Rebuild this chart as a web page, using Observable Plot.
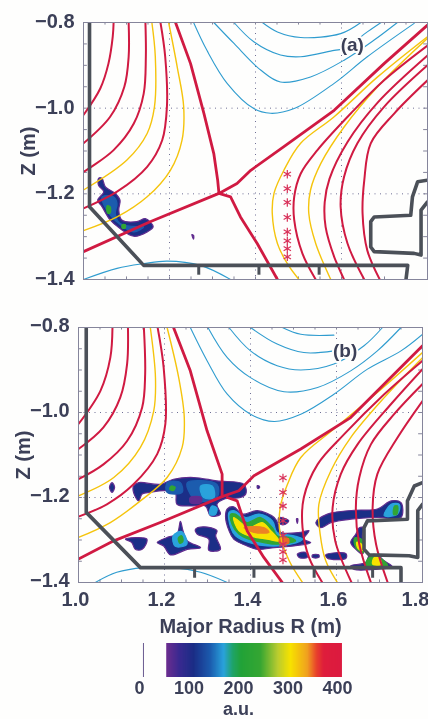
<!DOCTYPE html>
<html><head><meta charset="utf-8">
<script src="https://cdn.jsdelivr.net/npm/d3@7"></script>
<script src="https://cdn.jsdelivr.net/npm/@observablehq/plot@0.6"></script>
<style>
html,body{margin:0;padding:0;background:#fefefd;overflow:hidden}
svg{display:block;filter:blur(0.35px)}
</style></head><body>
<div id="chart"></div>
<script>
// axis values
const rTicks=[1.0,1.2,1.4,1.6], rLast=[1.8], zTicks=[-1.4,-1.2,-1.0,-0.8];
const rGrid=[1.2,1.4,1.6], zGrid=[-1.0,-1.2];
const rMinor=[1.05,1.1,1.15,1.2,1.25,1.3,1.35,1.4,1.45,1.5,1.55,1.6,1.65,1.7,1.75];
const zMinor=[-0.85,-0.9,-0.95,-1.0,-1.05,-1.1,-1.15,-1.2,-1.25,-1.3,-1.35];
const starZ=[-1.154,-1.188,-1.22,-1.255,-1.289,-1.31,-1.328,-1.347];
// colour bar
const barTicks=[0,100,200,300,400];
const levels=[55,80,109,143,170,188,205,244,279,305,339,358,372,410];
const levelColors=["#6b2d8f","#3a2a90","#1b2d86","#1c5cae","#2aa3dc","#1fa36a","#22a238","#35a633","#b8cc30","#f7e200","#f0a020","#e8402c","#de1e3c","#dc1a40"];
const barValues=d3.range(55,406,2);

// panel (a) contours: [R, Z]
const aRed=[
[[1.07,-.8],[1.068,-.833],[1.058,-.896],[1.039,-.954],[1,-1.016]],
[[1.105,-.8],[1.105,-.88],[1.095,-.95],[1.062,-1.02],[1,-1.082]],
[[1.144,-.8],[1.145,-.88],[1.14,-.966],[1.117,-1.036],[1.07,-1.098],[1,-1.149]],
[[1.179,-.8],[1.19,-.88],[1.194,-.997],[1.183,-1.075],[1.148,-1.137],[1.078,-1.195],[1,-1.234]],
[[1.8,-.854],[1.699,-.935],[1.622,-1.012],[1.544,-1.098],[1.505,-1.153],[1.49,-1.207],[1.49,-1.261],[1.509,-1.339],[1.54,-1.4]],
[[1.8,-.877],[1.684,-.987],[1.614,-1.079],[1.572,-1.165],[1.561,-1.219],[1.563,-1.277],[1.583,-1.347],[1.606,-1.4]],
[[1.8,-.9],[1.699,-.997],[1.637,-1.082],[1.606,-1.16],[1.598,-1.23],[1.614,-1.316],[1.653,-1.4]],
[[1.8,-.935],[1.723,-1.012],[1.668,-1.082],[1.653,-1.168],[1.649,-1.246],[1.66,-1.332],[1.689,-1.4]]];
const aYellow=[
[[1.159,-.8],[1.167,-.88],[1.165,-.997],[1.148,-1.059],[1.101,-1.121],[1,-1.191]],
[[1.198,-.8],[1.218,-.904],[1.233,-.997],[1.229,-1.075],[1.202,-1.145],[1.148,-1.207],[1.078,-1.254],[1,-1.286]],
[[1.8,-.833],[1.684,-.927],[1.583,-1.02],[1.505,-1.082],[1.466,-1.145],[1.443,-1.199],[1.439,-1.246],[1.451,-1.316],[1.474,-1.363],[1.501,-1.4]],
[[1.8,-.837],[1.684,-.95],[1.606,-1.044],[1.552,-1.129],[1.528,-1.191],[1.524,-1.246],[1.54,-1.316],[1.575,-1.4]]];
const aBlue=[
[[1,-1.4],[1.078,-1.374],[1.14,-1.363],[1.194,-1.357],[1.272,-1.367],[1.342,-1.4]],
[[1.256,-.8],[1.287,-.865],[1.334,-.942],[1.396,-1.001],[1.435,-1.012],[1.49,-1.001],[1.583,-.942],[1.66,-.88],[1.769,-.802]],
[[1.303,-.8],[1.35,-.849],[1.412,-.911],[1.458,-.939],[1.528,-.927],[1.606,-.888],[1.676,-.841],[1.73,-.8]],
[[1.35,-.8],[1.396,-.845],[1.458,-.876],[1.505,-.88],[1.583,-.865],[1.606,-.861],[1.66,-.822],[1.692,-.8]],
[[1.416,-.8],[1.451,-.822],[1.505,-.835],[1.598,-.826],[1.645,-.8]]];
const aSep=[
[[1.214,-.8],[1.249,-.896],[1.28,-1.012],[1.303,-1.106],[1.312,-1.168],[1.315,-1.199]],
[[1.315,-1.199],[1.357,-1.176],[1.389,-1.145],[1.466,-1.09],[1.583,-1.005],[1.699,-.896],[1.8,-.806]],
[[1.315,-1.199],[1.155,-1.265],[1,-1.335]],
[[1.315,-1.199],[1.342,-1.207],[1.365,-1.254],[1.404,-1.316],[1.451,-1.4]]];
const aWall=[
[[1.014,-.8],[1.014,-1.23],[1.14,-1.367],[1.754,-1.367],[1.75,-1.4]],
[[1.8,-1.168],[1.777,-1.172],[1.765,-1.207],[1.761,-1.25],[1.676,-1.254],[1.668,-1.265],[1.668,-1.324],[1.676,-1.335],[1.769,-1.339],[1.785,-1.343],[1.785,-1.238],[1.8,-1.219]]];
const aFeet=[1.268,1.408,1.548];
const aBlobs=[
{v:110,pts:[[1.035,-1.164],[1.043,-1.164],[1.051,-1.184],[1.074,-1.199],[1.085,-1.215],[1.082,-1.238],[1.089,-1.261],[1.124,-1.265],[1.144,-1.258],[1.162,-1.277],[1.148,-1.289],[1.117,-1.299],[1.085,-1.281],[1.062,-1.261],[1.043,-1.23],[1.033,-1.215],[1.047,-1.195],[1.035,-1.18]]},
{v:143,pts:[[1.043,-1.207],[1.07,-1.207],[1.078,-1.223],[1.074,-1.246],[1.085,-1.269],[1.132,-1.277],[1.14,-1.277],[1.117,-1.289],[1.082,-1.269],[1.054,-1.238]]},
{v:235,pts:[[1.055,-1.228],[1.062,-1.23],[1.062,-1.245],[1.056,-1.245]]},
{v:235,pts:[[1.09,-1.272],[1.097,-1.272],[1.097,-1.28],[1.09,-1.28]]},
{v:60,pts:[[1.252,-1.295],[1.256,-1.297],[1.256,-1.306]]}];

// panel (b) contours: [R, Z]
const bRed=[
[[1.079,-.8],[1.074,-.871],[1.051,-.949],[1,-1.027]],
[[1.115,-.8],[1.113,-.886],[1.097,-.965],[1.058,-1.035],[1,-1.086]],
[[1.152,-.8],[1.155,-.91],[1.148,-.988],[1.113,-1.067],[1.058,-1.122],[1,-1.157]],
[[1.184,-.8],[1.198,-.894],[1.202,-1.027],[1.183,-1.098],[1.128,-1.169],[1.066,-1.216],[1,-1.245]],
[[1.8,-.878],[1.711,-.957],[1.618,-1.051],[1.556,-1.122],[1.524,-1.2],[1.521,-1.271],[1.536,-1.341],[1.567,-1.4]],
[[1.8,-.898],[1.727,-.98],[1.649,-1.075],[1.61,-1.145],[1.591,-1.224],[1.597,-1.302],[1.635,-1.4]],
[[1.8,-.933],[1.734,-1.004],[1.68,-1.075],[1.653,-1.153],[1.645,-1.224],[1.653,-1.31],[1.68,-1.4]],
[[1.8,-.973],[1.742,-1.059],[1.695,-1.145],[1.684,-1.224],[1.692,-1.31],[1.719,-1.4]]];
const bYellow=[
[[1.167,-.8],[1.179,-.918],[1.175,-.996],[1.144,-1.082],[1.082,-1.153],[1,-1.196]],
[[1.206,-.8],[1.233,-.918],[1.246,-1.012],[1.241,-1.082],[1.206,-1.153],[1.144,-1.208],[1.074,-1.259],[1,-1.294]],
[[1.8,-.859],[1.695,-.953],[1.594,-1.039],[1.517,-1.106],[1.486,-1.169],[1.469,-1.224],[1.469,-1.286],[1.49,-1.349],[1.521,-1.4]],
[[1.8,-.871],[1.711,-.965],[1.633,-1.059],[1.587,-1.137],[1.559,-1.216],[1.562,-1.286],[1.575,-1.349],[1.602,-1.4]]];
const bBlue=[
[[1.039,-1.4],[1.089,-1.376],[1.152,-1.365],[1.221,-1.365],[1.284,-1.376],[1.346,-1.4]],
[[1.26,-.8],[1.299,-.878],[1.346,-.957],[1.4,-1.004],[1.455,-1.021],[1.517,-1.004],[1.594,-.957],[1.672,-.898],[1.75,-.855],[1.8,-.816]],
[[1.301,-.8],[1.346,-.871],[1.4,-.918],[1.478,-.951],[1.556,-.941],[1.633,-.902],[1.695,-.855],[1.75,-.8]],
[[1.35,-.8],[1.4,-.855],[1.462,-.89],[1.517,-.9],[1.594,-.886],[1.664,-.843],[1.707,-.8]],
[[1.4,-.8],[1.462,-.839],[1.524,-.859],[1.594,-.855]],
[[1.474,-.8],[1.517,-.816],[1.594,-.818]]];
const bSep=[
[[1.221,-.8],[1.26,-.902],[1.299,-1.043],[1.334,-1.145],[1.334,-1.198]],
[[1.334,-1.198],[1.373,-1.184],[1.408,-1.149],[1.517,-1.086],[1.633,-1.012],[1.8,-.843]],
[[1.334,-1.198],[1.19,-1.259],[1.082,-1.302],[1,-1.345]],
[[1.346,-1.2],[1.369,-1.208],[1.392,-1.278],[1.431,-1.341],[1.474,-1.4]]];
const bWall=[
[[1.018,-.8],[1.018,-1.235],[1.144,-1.365],[1.75,-1.365],[1.75,-1.4]],
[[1.8,-1.165],[1.781,-1.173],[1.765,-1.208],[1.765,-1.251],[1.672,-1.255],[1.664,-1.271],[1.664,-1.322],[1.676,-1.335],[1.769,-1.337],[1.789,-1.341],[1.789,-1.231],[1.8,-1.216]]];
const bFeet=[1.27,1.408,1.548,1.684];
const bBlobs=[
{v:110,pts:[[1.078,-1.165],[1.084,-1.176],[1.078,-1.188],[1.072,-1.176]]},
{v:110,pts:[[1.128,-1.173],[1.14,-1.165],[1.19,-1.169],[1.221,-1.157],[1.268,-1.153],[1.322,-1.161],[1.385,-1.169],[1.389,-1.192],[1.377,-1.2],[1.338,-1.204],[1.322,-1.216],[1.33,-1.239],[1.307,-1.243],[1.295,-1.22],[1.26,-1.22],[1.229,-1.216],[1.225,-1.188],[1.198,-1.184],[1.167,-1.188],[1.148,-1.192],[1.14,-1.208],[1.128,-1.188]]},
{v:143,pts:[[1.253,-1.165],[1.322,-1.169],[1.322,-1.2],[1.276,-1.208],[1.26,-1.192]]},
{v:143,pts:[[1.206,-1.165],[1.237,-1.165],[1.241,-1.188],[1.206,-1.188]]},
{v:170,pts:[[1.284,-1.173],[1.311,-1.173],[1.315,-1.2],[1.291,-1.2]]},
{v:235,pts:[[1.216,-1.173],[1.225,-1.176],[1.22,-1.184],[1.212,-1.18]]},
{v:60,pts:[[1.26,-1.2],[1.285,-1.2],[1.285,-1.212],[1.26,-1.212]]},
{v:170,pts:[[1.31,-1.22],[1.322,-1.225],[1.318,-1.24],[1.305,-1.24]]},
{v:110,pts:[[1.346,-1.227],[1.361,-1.222],[1.381,-1.239],[1.416,-1.231],[1.455,-1.247],[1.466,-1.267],[1.47,-1.282],[1.517,-1.282],[1.536,-1.278],[1.524,-1.298],[1.54,-1.306],[1.501,-1.314],[1.455,-1.318],[1.416,-1.322],[1.392,-1.314],[1.361,-1.298],[1.35,-1.278],[1.342,-1.247]]},
{v:170,pts:[[1.35,-1.235],[1.361,-1.231],[1.389,-1.247],[1.42,-1.239],[1.451,-1.255],[1.462,-1.282],[1.501,-1.29],[1.521,-1.298],[1.493,-1.31],[1.439,-1.314],[1.396,-1.306],[1.365,-1.29],[1.354,-1.271]]},
{v:235,pts:[[1.354,-1.239],[1.365,-1.239],[1.392,-1.259],[1.423,-1.247],[1.451,-1.271],[1.462,-1.29],[1.493,-1.294],[1.505,-1.302],[1.462,-1.31],[1.431,-1.306],[1.396,-1.298],[1.373,-1.286],[1.357,-1.263]]},
{v:305,pts:[[1.361,-1.247],[1.396,-1.271],[1.427,-1.259],[1.447,-1.278],[1.466,-1.302],[1.439,-1.298],[1.396,-1.29],[1.373,-1.278]]},
{v:345,pts:[[1.385,-1.271],[1.431,-1.271],[1.443,-1.282],[1.408,-1.282]]},
{v:350,pts:[[1.468,-1.297],[1.488,-1.297],[1.488,-1.308],[1.468,-1.308]]},
{v:110,pts:[[1.109,-1.298],[1.159,-1.298],[1.148,-1.322],[1.132,-1.322],[1.124,-1.306]]},
{v:110,pts:[[1.183,-1.306],[1.206,-1.294],[1.229,-1.286],[1.237,-1.256],[1.243,-1.278],[1.253,-1.302],[1.284,-1.318],[1.253,-1.322],[1.214,-1.335],[1.198,-1.314]]},
{v:170,pts:[[1.22,-1.29],[1.24,-1.28],[1.252,-1.31],[1.225,-1.315]]},
{v:235,pts:[[1.232,-1.295],[1.24,-1.29],[1.243,-1.303],[1.236,-1.308]]},
{v:110,pts:[[1.272,-1.275],[1.291,-1.269],[1.322,-1.278],[1.319,-1.29],[1.33,-1.322],[1.303,-1.324],[1.303,-1.298],[1.276,-1.286]]},
{v:110,pts:[[1.509,-1.333],[1.528,-1.329],[1.532,-1.341],[1.513,-1.341]]},
{v:110,pts:[[1.544,-1.335],[1.559,-1.335],[1.559,-1.341],[1.544,-1.341]]},
{v:110,pts:[[1.575,-1.335],[1.622,-1.332],[1.622,-1.343],[1.579,-1.343]]},
{v:110,pts:[[1.552,-1.259],[1.579,-1.239],[1.641,-1.23],[1.695,-1.227],[1.727,-1.208],[1.75,-1.212],[1.75,-1.247],[1.695,-1.247],[1.633,-1.251],[1.587,-1.259],[1.563,-1.271]]},
{v:170,pts:[[1.727,-1.216],[1.746,-1.216],[1.742,-1.239],[1.711,-1.243]]},
{v:235,pts:[[1.735,-1.22],[1.742,-1.22],[1.74,-1.24],[1.733,-1.24]]},
{v:110,pts:[[1.653,-1.271],[1.664,-1.271],[1.66,-1.29],[1.664,-1.322],[1.66,-1.333],[1.645,-1.322],[1.633,-1.306],[1.645,-1.286]]},
{v:235,pts:[[1.642,-1.295],[1.66,-1.3],[1.662,-1.33],[1.645,-1.318]]},
{v:305,pts:[[1.647,-1.305],[1.66,-1.312],[1.66,-1.325],[1.65,-1.32]]},
{v:110,pts:[[1.633,-1.361],[1.668,-1.353],[1.676,-1.337],[1.695,-1.335],[1.711,-1.349],[1.73,-1.363],[1.688,-1.369],[1.641,-1.369]]},
{v:235,pts:[[1.668,-1.361],[1.676,-1.341],[1.695,-1.339],[1.719,-1.361]]},
{v:305,pts:[[1.684,-1.357],[1.688,-1.341],[1.699,-1.341],[1.703,-1.358]]},
{v:110,pts:[[1.466,-1.247],[1.489,-1.255],[1.478,-1.264],[1.466,-1.26]]},
{v:60,pts:[[1.507,-1.25],[1.51,-1.25],[1.509,-1.261]]},
{v:110,pts:[[1.416,-1.172],[1.421,-1.174],[1.42,-1.178],[1.416,-1.178]]}];

const ink="#3c4058", frameC="#85859b", gridC="#6f6f95";
const colorOpts={type:"linear",domain:levels,range:levelColors,interpolate:"rgb"};
const flat=(cs)=>cs.flatMap((c,i)=>c.map(p=>({R:p[0],Z:p[1],id:i})));
const flatBlobs=(bs)=>bs.flatMap((b,i)=>b.pts.map(p=>({R:p[0],Z:p[1],v:b.v,s:b.v<=110?60:b.v,id:i})));

function panel({red,yellow,blue,sep,wall,feet,blobs,starR,tag,tagR,tagZ,mL,mR,mT,mB,h,dyT,zOffset,xAxis}){
  const marks=[
    Plot.ruleX(rGrid,{x:d=>d,stroke:gridC,strokeWidth:1,strokeDasharray:"1,4.5"}),
    Plot.ruleY(zGrid,{y:d=>d,stroke:gridC,strokeWidth:1,strokeDasharray:"1,4.5"}),
    Plot.ruleY(zMinor,{y:d=>d,x1:1,x2:1.009,stroke:frameC}),
    Plot.ruleY(zMinor,{y:d=>d,x1:1.791,x2:1.8,stroke:frameC}),
    Plot.ruleX(rMinor,{x:d=>d,y1:-1.4,y2:-1.394,stroke:frameC}),
    Plot.ruleX(rMinor,{x:d=>d,y1:-.806,y2:-.8,stroke:frameC}),
    Plot.line(flatBlobs(blobs),{x:"R",y:"Z",z:"id",fill:"v",stroke:"s",strokeWidth:1.2,curve:"catmull-rom-closed",clip:true}),
    Plot.line(flat(blue),{x:"R",y:"Z",z:"id",stroke:"#2f9ccf",strokeWidth:1.1,curve:"catmull-rom",clip:true}),
    Plot.line(flat(yellow),{x:"R",y:"Z",z:"id",stroke:"#f5c40c",strokeWidth:1.4,curve:"catmull-rom",clip:true}),
    Plot.line(flat(red),{x:"R",y:"Z",z:"id",stroke:"#d01a42",strokeWidth:2,curve:"catmull-rom",clip:true}),
    Plot.line(flat(sep),{x:"R",y:"Z",z:"id",stroke:"#d01a42",strokeWidth:2.8,clip:true}),
    Plot.line(flat(wall),{x:"R",y:"Z",z:"id",stroke:"#4b5058",strokeWidth:3.6,strokeLinejoin:"round",clip:true}),
    Plot.ruleX(feet,{x:d=>d,y1:-1.367,y2:-1.39,stroke:"#4b5058",strokeWidth:3}),
    Plot.dot(starZ,{x:()=>starR,y:d=>d,symbol:"asterisk",r:4,stroke:"#d8325a",strokeWidth:1.2}),
    Plot.text([tag],{x:()=>tagR,y:()=>tagZ,text:d=>d,stroke:"#fefefd",strokeWidth:4,fill:ink,fontSize:19}),
    Plot.frame({stroke:frameC,strokeWidth:1}),
    Plot.axisY(zTicks,{anchor:"left",tickSize:0,tickPadding:9,dy:dyT,tickFormat:d3.format(".1f"),label:"Z (m)",labelAnchor:"center",labelArrow:"none",labelOffset:zOffset})
  ];
  if(xAxis){
    marks.push(
      Plot.axisX(rTicks,{anchor:"bottom",tickSize:0,tickPadding:9,dx:-3,tickFormat:d3.format(".1f"),label:"Major Radius R (m)",labelAnchor:"center",labelArrow:"none",labelOffset:50}),
      Plot.axisX(rLast,{anchor:"bottom",tickSize:0,tickPadding:9,dx:-7,tickFormat:d3.format(".1f"),label:null})
    );
  } else {
    marks.push(Plot.axisX({ticks:[],label:null}));
  }
  return Plot.plot({
    width:428,height:h,marginLeft:mL,marginRight:mR,marginTop:mT,marginBottom:mB,
    x:{domain:[1,1.8]},y:{domain:[-1.4,-0.8]},color:colorOpts,
    style:{background:"transparent",fontFamily:"'Liberation Sans',Arial,sans-serif",fontSize:"20px",fontWeight:"bold",color:ink,overflow:"visible"},
    marks
  });
}
const root=document.getElementById("chart");
root.append(panel({red:aRed,yellow:aYellow,blue:aBlue,sep:aSep,wall:aWall,feet:aFeet,blobs:aBlobs,starR:1.474,tag:"(a)",tagR:1.625,tagZ:-.853,mL:83,mR:1,mT:22,mB:21,h:300,dyT:-1,zOffset:63,xAxis:false}));
root.append(panel({red:bRed,yellow:bYellow,blue:bBlue,sep:bSep,wall:bWall,feet:bFeet,blobs:bBlobs,starR:1.4755,tag:"(b)",tagR:1.62,tagZ:-.855,mL:78,mR:6,mT:27,mB:58,h:340,dyT:-2,zOffset:63,xAxis:true}));
root.append(Plot.plot({
  width:428,height:79,marginLeft:139,marginRight:91,marginTop:3,marginBottom:42,
  x:{domain:[0,400]},color:colorOpts,
  style:{background:"transparent",fontFamily:"'Liberation Sans',Arial,sans-serif",fontSize:"18px",fontWeight:"bold",color:ink,overflow:"visible"},
  marks:[
    Plot.rect(barValues,{x1:d=>d,x2:d=>d+5,fill:d=>d}),
    Plot.ruleX([8],{stroke:"#6a5a90",strokeWidth:1}),
    Plot.axisX(barTicks,{anchor:"bottom",tickSize:0,tickPadding:4,tickFormat:d3.format("d"),label:"a.u.",labelAnchor:"center",labelArrow:"none",labelOffset:37})
  ]
}));
</script>
</body></html>
